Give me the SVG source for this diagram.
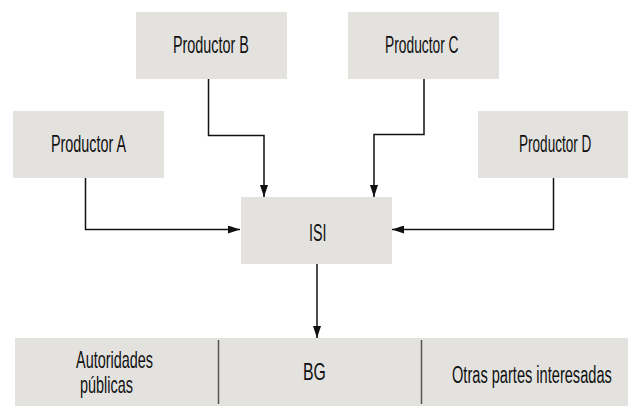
<svg xmlns="http://www.w3.org/2000/svg" width="628" height="418" viewBox="0 0 628 418">
<defs>
<style>
.box{fill:#e3e2df;}
.t{font-family:"Liberation Sans",Arial,sans-serif;font-size:23px;fill:#111;}
.c{fill:none;stroke:#111;stroke-width:1.5;}
.div{stroke:#555;stroke-width:1.5;}
</style>
<marker id="ah" viewBox="0 0 12 8" refX="12" refY="4" markerWidth="12" markerHeight="8" markerUnits="userSpaceOnUse" orient="auto">
<path d="M0,0 L12,4 L0,8 Z" fill="#111"/>
</marker>
</defs>
<rect width="628" height="418" fill="#fff"/>
<g id="productor-a">
<rect class="box" x="13" y="111" width="151" height="67"/>
<text class="t" transform="translate(51,152) scale(0.625,1)">Productor A</text>
</g>
<g id="productor-b">
<rect class="box" x="136" y="12" width="151" height="67"/>
<text class="t" transform="translate(173,53) scale(0.625,1)">Productor B</text>
</g>
<g id="productor-c">
<rect class="box" x="348" y="12" width="151" height="67"/>
<text class="t" transform="translate(385,53) scale(0.6,1)">Productor C</text>
</g>
<g id="productor-d">
<rect class="box" x="478" y="111" width="150" height="67"/>
<text class="t" transform="translate(519,152) scale(0.59,1)">Productor D</text>
</g>
<g id="isi">
<rect class="box" x="241" y="197" width="151" height="67"/>
<text class="t" transform="translate(309,241) scale(0.62,1)">ISI</text>
</g>
<g id="destinatarios">
<rect class="box" x="15" y="338" width="613" height="68"/>
<line class="div" x1="218.5" y1="340" x2="218.5" y2="404"/>
<line class="div" x1="421.5" y1="340" x2="421.5" y2="404"/>
<text class="t" transform="translate(76,367.5) scale(0.628,1)">Autoridades</text>
<text class="t" transform="translate(80,393) scale(0.628,1)">públicas</text>
<text class="t" transform="translate(303,380) scale(0.69,1)">BG</text>
<text class="t" transform="translate(452,383) scale(0.635,1)">Otras partes interesadas</text>
</g>
<g id="connectors">
<path class="c" d="M85.5,178 V229.5 H240" marker-end="url(#ah)"/>
<path class="c" d="M208.5,79 V135.5 H264 V197" marker-end="url(#ah)"/>
<path class="c" d="M424,79 V134.5 H374 V197" marker-end="url(#ah)"/>
<path class="c" d="M553.5,178 V229.5 H392" marker-end="url(#ah)"/>
<path class="c" d="M317,264 V338" marker-end="url(#ah)"/>
</g>
</svg>
